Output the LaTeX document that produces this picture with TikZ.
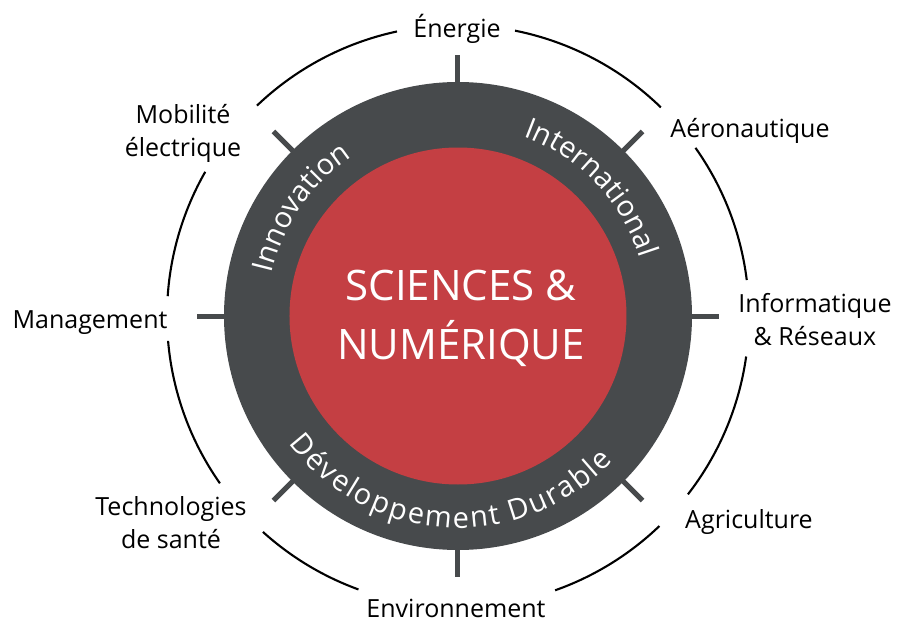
\documentclass[tikz,border=0pt]{standalone}
\usepackage{fontspec}
\setmainfont{Open Sans}
\usetikzlibrary{decorations.text}
\definecolor{ringgray}{RGB}{71,74,76}
\definecolor{corered}{RGB}{196,63,67}
\begin{document}
\begin{tikzpicture}[x=1pt,y=1pt,
  outerarc/.style={line width=2.1pt, black},
  tickline/.style={line width=5pt, ringgray},
  lbl/.style={font=\fontsize{25}{32.5}\selectfont, align=center, inner sep=0pt, anchor=base},
  ringtext/.style={decorate, decoration={text along path, text align=fit to path, text={|\fontsize{29}{29}\selectfont\color{white}|#1}}}
  ]
\useasboundingbox (-458,-306) rectangle (440,316);
% ring and core
\node[circle, fill=ringgray, minimum size=468pt, inner sep=0pt] (ring) at (0,0) {};
\node[circle, fill=corered, minimum size=337pt, inner sep=0pt] (core) at (0,0) {};
\node[align=center, text=white, inner sep=0pt, anchor=base,
  font=\fontsize{42}{59}\selectfont] (coretext) at (3,-43) {SCIENCES \&\\NUMÉRIQUE};
% ticks
\foreach \a in {0,45,...,315} \draw[tickline] (\a:233) -- (\a:261);
% outer arcs
\draw[outerarc] (102.1:291) arc[start angle=102.1, end angle=133.7, radius=291];
\draw[outerarc] (150.3:291) arc[start angle=150.3, end angle=176.1, radius=291];
\draw[outerarc] (184.9:291) arc[start angle=184.9, end angle=215.1, radius=291];
\draw[outerarc] (227.9:291) arc[start angle=227.9, end angle=250.0, radius=291];
\draw[outerarc] (-70.5:291) arc[start angle=-70.5, end angle=-46.2, radius=291];
\draw[outerarc] (-37.8:291) arc[start angle=-37.8, end angle=-8.0, radius=291];
\draw[outerarc] (7.1:291) arc[start angle=7.1, end angle=35.3, radius=291];
\draw[outerarc] (45.8:291) arc[start angle=45.8, end angle=78.7, radius=291];
% ring texts
\path[ringtext=Innovation] (167:191) arc[start angle=167, end angle=124, radius=191];
\path[ringtext=International] (70:191) arc[start angle=70, end angle=18, radius=191];
\path[ringtext={Développement Durable}] (-143:212) arc[start angle=-143, end angle=-43, radius=212];
% labels
\node[lbl] (energie) at (-1,279) {Énergie};
\node[lbl] (aero) at (292,179) {Aéronautique};
\node[lbl] (info) at (357,-29) {Informatique\\\& Réseaux};
\node[lbl] (agri) at (291,-212) {Agriculture};
\node[lbl] (envi) at (-2,-301) {Environnement};
\node[lbl] (techno) at (-287,-232) {Technologies\\de santé};
\node[lbl] (manag) at (-368,-12) {Management};
\node[lbl] (mobil) at (-275,160) {Mobilité\\électrique};
\end{tikzpicture}
\end{document}
